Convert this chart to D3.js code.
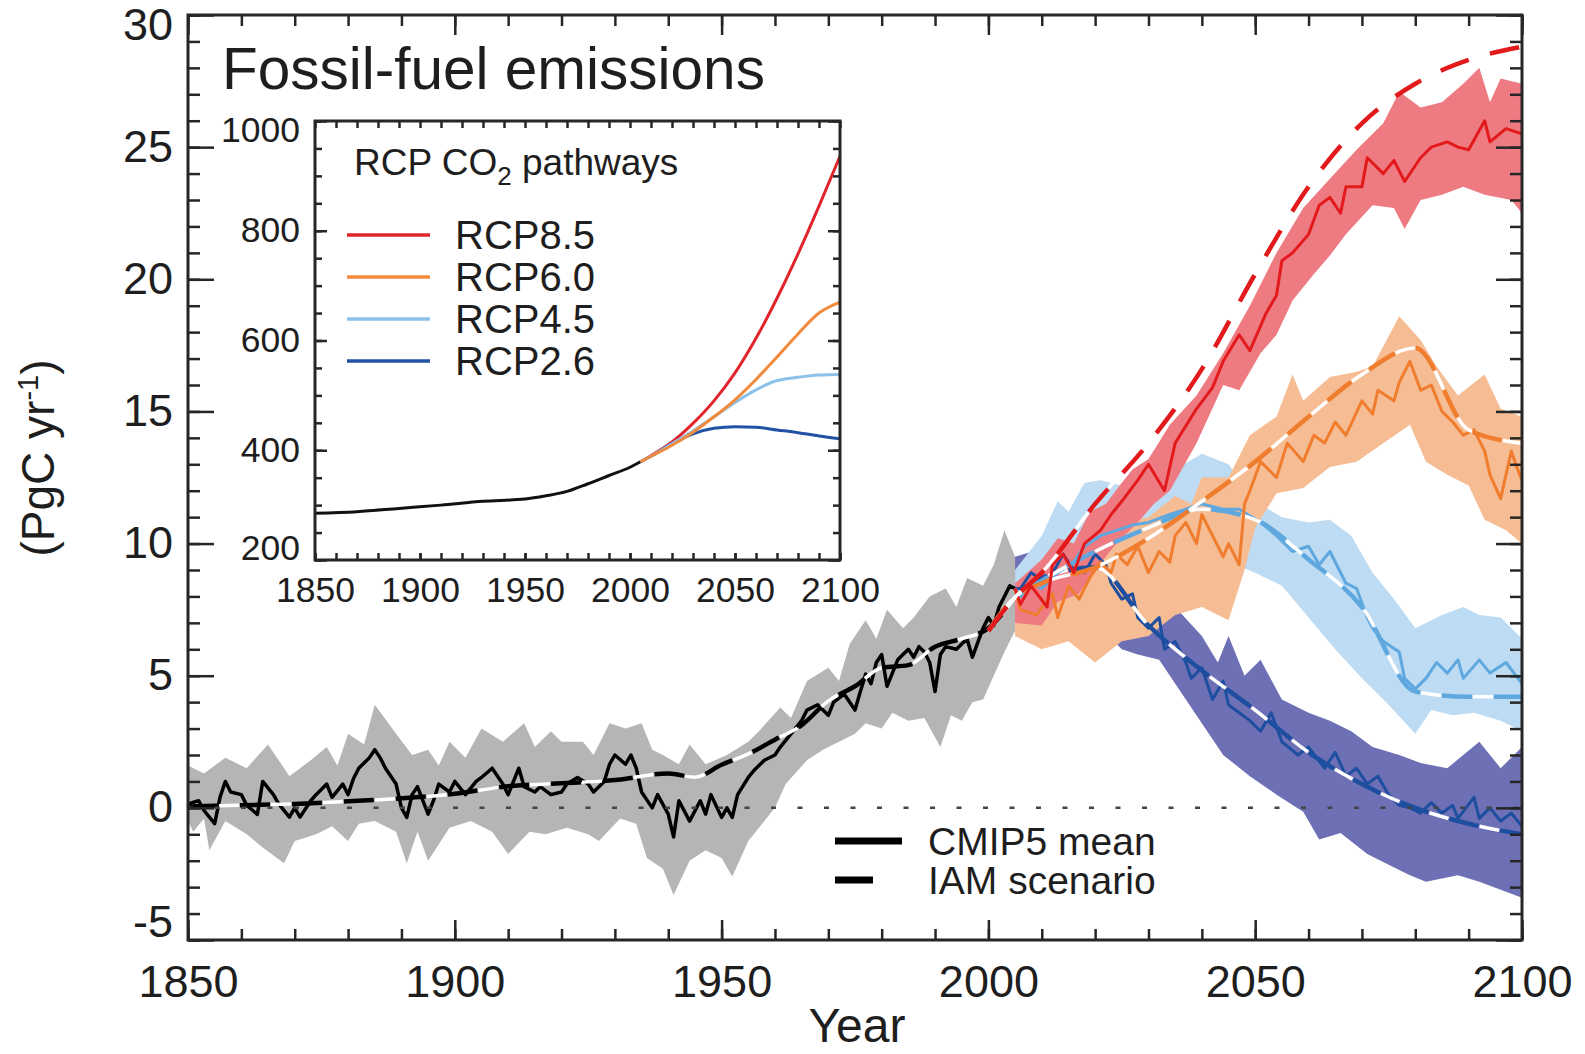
<!DOCTYPE html>
<html>
<head>
<meta charset="utf-8">
<script src="https://cdn.jsdelivr.net/npm/d3@7"></script>
<style>
body { margin: 0; background: #fff; }
svg text { font-family: "Liberation Sans", Arial, Helvetica, sans-serif; fill: #1e1e1e; }
</style>
</head>
<body>
<svg id="chart" width="1585" height="1054"></svg>
<script>
// ---- main panel data (PgC / yr) ----
var histMean = [[1850,0.15],[1852,0.27],[1853,-0.1],[1855,-0.6],[1856,0.4],[1857,1.0],[1858,0.6],[1860,0.5],[1861,0.1],[1863,-0.25],
  [1864,1.0],[1866,0.5],[1867,0.15],[1869,-0.35],[1870,0.0],[1871,-0.35],[1873,0.27],[1874,0.5],[1876,0.9],[1877,0.4],[1879,0.9],
  [1880,0.5],[1881,1.1],[1882,1.5],[1884,1.9],[1885,2.2],[1886,1.9],[1887,1.5],[1889,0.9],[1890,0.0],[1891,-0.36],[1892,0.5],
  [1893,0.8],[1895,-0.24],[1896,0.27],[1897,0.9],[1899,0.6],[1900,1.0],[1902,0.5],[1904,1.0],[1905,1.15],[1907,1.5],[1909,0.9],
  [1910,0.5],[1912,1.5],[1913,0.8],[1915,0.6],[1916,0.8],[1918,0.5],[1920,0.6],[1921,0.9],[1923,1.15],[1925,0.9],[1926,0.6],
  [1928,1.0],[1929,1.65],[1930,2.0],[1932,1.65],[1933,2.0],[1934,1.5],[1935,0.6],[1937,0.0],[1938,0.5],[1940,-0.24],[1941,-1.1],
  [1942,0.27],[1944,-0.5],[1946,0.27],[1947,-0.24],[1948,0.5],[1950,-0.36],[1951,0.0],[1952,-0.36],[1953,0.5],[1955,1.15],
  [1956,1.4],[1958,1.8],[1960,2.0],[1961,2.3],[1963,2.8],[1965,3.3],[1966,3.7],[1968,3.9],[1970,3.5],[1971,4.0],[1973,4.3],
  [1975,3.7],[1976,4.4],[1977,5.06],[1978,4.7],[1979,5.5],[1980,5.8],[1981,4.6],[1983,5.6],[1985,6.0],[1986,5.7],[1987,6.1],
  [1988,5.9],[1989,5.5],[1990,4.4],[1991,5.8],[1992,6.1],[1994,6.0],[1996,6.4],[1997,5.7],[1999,6.8],[2000,7.2],[2001,6.9],
  [2002,7.6],[2003,8.0],[2004,8.4],[2005,8.3]]
var histHi = [[1850,1.6],[1853,1.3],[1857,1.9],[1861,1.5],[1865,2.4],[1869,1.2],[1873,1.8],[1876,2.3],[1878,1.6],[1880,2.8],
  [1883,2.4],[1885,3.9],[1889,2.8],[1892,2.0],[1895,2.2],[1897,1.6],[1899,2.5],[1902,1.9],[1905,3.0],[1909,2.5],[1913,3.2],
  [1915,2.3],[1918,2.9],[1920,2.5],[1924,2.5],[1926,2.0],[1929,3.2],[1932,3.0],[1935,3.2],[1937,2.2],[1939,2.0],[1942,1.65],
  [1944,2.4],[1947,1.65],[1951,2.0],[1955,2.5],[1957,2.9],[1961,3.8],[1963,3.4],[1966,4.8],[1970,5.3],[1972,4.8],[1974,6.2],
  [1977,7.1],[1979,6.4],[1981,7.5],[1984,6.8],[1986,7.2],[1989,8.0],[1992,8.3],[1994,7.6],[1996,8.7],[1999,8.4],[2001,9.2],
  [2003,10.5],[2005,9.5]]
var histLo = [[1850,-0.5],[1851,-0.9],[1853,-0.4],[1854,-1.6],[1857,-0.5],[1861,-1.0],[1864,-1.5],[1868,-2.1],[1870,-1.25],
  [1874,-1.0],[1877,-0.7],[1880,-1.25],[1882,-0.6],[1885,-0.5],[1889,-0.9],[1891,-2.1],[1893,-0.9],[1895,-2.0],[1899,-0.75],
  [1903,-0.5],[1907,-0.9],[1910,-1.75],[1914,-0.9],[1917,-1.0],[1921,-0.75],[1925,-1.0],[1927,-1.25],[1931,-0.4],[1934,-0.6],
  [1936,-1.9],[1939,-2.3],[1941,-3.3],[1944,-2.0],[1947,-1.6],[1950,-1.9],[1952,-2.6],[1955,-1.25],[1957,-0.75],[1960,0.0],
  [1962,0.9],[1966,1.8],[1969,2.2],[1972,2.5],[1975,2.8],[1977,3.2],[1980,3.0],[1982,3.6],[1985,3.3],[1988,3.4],[1991,2.3],
  [1993,3.5],[1995,3.3],[1997,4.0],[1999,4.1],[2001,5.0],[2003,5.9],[2005,6.7]]
var histIAM = [[1850,0.05],[1860,0.1],[1870,0.15],[1880,0.25],[1890,0.36],[1900,0.53],[1910,0.82],[1920,0.93],[1930,1.05],
  [1940,1.3],[1945,1.16],[1950,1.63],[1955,2.04],[1960,2.58],[1965,3.13],[1970,4.05],[1975,4.6],[1980,5.3],[1985,5.4],
  [1990,6.1],[1995,6.4],[2000,6.8],[2005,7.97]]

var rcp85Mean = [[2005,8.3],[2006,7.7],[2008,8.4],[2011,7.6],[2012,9.2],[2014,9.6],[2016,8.9],[2018,10.0],[2021,10.5],[2023,11.1],
  [2025,11.6],[2028,12.4],[2030,13.0],[2033,12.0],[2035,13.8],[2039,15.1],[2042,15.9],[2044,16.9],[2047,17.9],[2049,17.3],
  [2052,18.7],[2054,19.4],[2055,20.7],[2057,21.0],[2060,21.7],[2062,22.8],[2064,23.1],[2066,22.5],[2067,23.5],[2070,23.5],
  [2071,24.6],[2074,24.0],[2076,24.5],[2078,23.7],[2081,24.6],[2083,25.0],[2086,25.2],[2088,25.0],[2090,24.9],[2093,26.0],
  [2094,25.2],[2097,25.7],[2100,25.5]]
var rcp85Hi = [[2005,8.5],[2010,9.4],[2013,10.2],[2016,10.0],[2019,11.2],[2022,11.5],[2025,12.3],[2027,12.8],[2030,13.2],
  [2034,14.5],[2039,15.6],[2044,17.2],[2049,19.0],[2054,21.0],[2059,22.7],[2064,23.8],[2069,24.9],[2074,25.9],[2077,27.1],
  [2081,26.5],[2085,26.7],[2089,27.4],[2092,28.0],[2094,26.7],[2096,27.6],[2100,27.4]]
var rcp85Lo = [[2005,7.0],[2010,6.9],[2013,7.8],[2017,8.1],[2020,9.0],[2024,10.0],[2028,10.8],[2031,11.5],[2034,12.0],
  [2039,13.8],[2044,16.0],[2047,15.8],[2051,17.2],[2054,17.9],[2057,19.2],[2061,20.2],[2064,20.9],[2067,21.7],[2072,22.8],
  [2076,22.7],[2078,21.9],[2081,23.0],[2085,23.2],[2089,23.5],[2093,23.2],[2098,23.0],[2100,22.5]]
var rcp85IAM = [[2000,6.7],[2005,7.97],[2010,8.9],[2020,11.5],[2030,13.8],[2040,16.6],[2050,20.2],[2060,23.5],[2070,25.9],
  [2080,27.4],[2090,28.3],[2100,28.8]]

var rcp60Mean = [[2005,8.3],[2006,7.5],[2009,7.3],[2012,8.1],[2013,7.2],[2015,8.4],[2017,7.9],[2019,8.7],[2021,9.3],[2023,8.9],
  [2024,9.6],[2026,9.2],[2028,9.9],[2030,8.9],[2032,9.7],[2034,9.3],[2035,10.3],[2037,10.8],[2039,10.0],[2040,11.1],[2042,10.3],
  [2044,9.5],[2045,10.0],[2047,9.2],[2048,11.5],[2049,12.0],[2051,13.1],[2054,12.5],[2056,13.8],[2059,13.1],[2061,14.1],
  [2063,13.8],[2065,14.6],[2067,14.1],[2070,15.4],[2072,14.9],[2073,15.8],[2076,15.4],[2077,16.1],[2079,16.9],[2081,15.8],
  [2083,16.0],[2085,15.0],[2087,14.6],[2089,14.1],[2091,14.3],[2093,13.5],[2094,12.6],[2096,11.7],[2098,13.5],[2099,12.9],
  [2100,12.4]]
var rcp60Hi = [[2005,8.5],[2010,8.8],[2015,9.5],[2020,10.0],[2025,10.8],[2030,11.0],[2035,11.8],[2038,11.5],[2040,12.5],
  [2045,12.5],[2049,14.1],[2054,14.8],[2057,16.4],[2059,15.4],[2064,16.3],[2069,16.5],[2072,16.7],[2077,18.6],[2081,17.7],
  [2084,16.7],[2088,15.6],[2093,16.4],[2096,15.1],[2100,14.8]]
var rcp60Lo = [[2005,6.5],[2010,6.0],[2015,6.3],[2020,5.5],[2025,6.3],[2030,6.5],[2035,7.3],[2040,7.6],[2045,7.1],[2048,9.0],
  [2050,10.6],[2054,11.9],[2059,12.1],[2064,12.9],[2069,13.1],[2074,13.8],[2079,14.5],[2082,13.1],[2086,12.6],[2090,12.2],
  [2093,10.9],[2097,10.5],[2100,10.0]]
var rcp60IAM = [[2000,6.7],[2005,7.97],[2010,8.5],[2020,9.1],[2030,10.2],[2040,11.6],[2050,13.1],[2060,14.8],[2070,16.4],
  [2080,17.4],[2090,14.3],[2100,13.8]]

var rcp45Mean = [[2005,8.3],[2006,8.0],[2008,8.5],[2010,8.3],[2013,8.9],[2016,9.3],[2018,9.9],[2021,10.3],[2024,10.5],[2027,10.7],
  [2030,10.8],[2034,11.1],[2037,11.3],[2040,11.5],[2044,11.3],[2047,11.3],[2051,10.8],[2054,10.3],[2057,9.7],[2060,9.9],
  [2062,9.2],[2064,9.7],[2067,8.5],[2069,8.3],[2071,7.2],[2072,6.8],[2074,6.3],[2077,5.9],[2078,4.9],[2080,4.5],[2082,4.9],
  [2084,5.5],[2086,5.1],[2088,5.6],[2089,4.9],[2092,5.6],[2094,5.1],[2097,5.5],[2100,4.7]]
var rcp45Hi = [[2005,9.0],[2010,10.3],[2013,11.6],[2015,11.2],[2018,12.3],[2021,12.4],[2025,12.2],[2030,12.5],[2035,12.8],
  [2040,13.4],[2045,13.0],[2050,11.6],[2055,11.0],[2060,10.8],[2064,10.9],[2068,10.3],[2072,8.9],[2076,7.9],[2080,6.8],
  [2085,7.3],[2089,7.6],[2092,7.3],[2096,7.2],[2100,6.4]]
var rcp45Lo = [[2005,7.0],[2010,7.0],[2015,7.8],[2020,8.3],[2025,8.8],[2030,9.0],[2035,9.3],[2040,9.5],[2045,9.3],[2050,8.9],
  [2055,8.4],[2060,7.2],[2065,6.0],[2070,4.9],[2075,3.9],[2080,2.8],[2083,3.7],[2087,3.5],[2091,3.6],[2096,3.3],[2100,2.9]]
var rcp45IAM = [[2000,6.7],[2005,7.97],[2010,8.6],[2020,9.7],[2030,10.6],[2040,11.3],[2050,10.9],[2060,9.4],[2070,7.6],
  [2080,4.4],[2090,4.2],[2100,4.2]]

var rcp26Mean = [[2005,8.3],[2006,8.3],[2008,8.9],[2011,8.5],[2014,9.6],[2016,9.0],[2018,8.9],[2020,9.6],[2022,9.2],[2023,8.5],
  [2025,7.9],[2027,8.1],[2028,7.2],[2030,6.8],[2032,7.2],[2033,6.0],[2035,6.3],[2037,5.5],[2038,4.9],[2040,5.3],[2042,4.1],
  [2044,4.8],[2045,3.9],[2047,3.6],[2049,3.3],[2051,2.9],[2053,3.6],[2055,2.5],[2058,2.0],[2060,2.3],[2063,1.5],[2065,2.1],
  [2067,1.2],[2069,1.5],[2071,0.9],[2073,1.2],[2075,0.5],[2077,0.1],[2079,0.0],[2081,-0.2],[2083,0.2],[2085,-0.2],[2087,0.1],
  [2088,-0.4],[2091,0.4],[2092,-0.4],[2094,0.0],[2096,-0.5],[2098,-0.2],[2100,-0.7]]
var rcp26Hi = [[2005,9.5],[2010,9.8],[2015,10.3],[2020,10.4],[2024,9.8],[2027,9.2],[2030,8.3],[2035,7.6],[2040,6.5],[2043,5.5],
  [2045,6.5],[2048,5.0],[2051,5.6],[2055,4.1],[2060,3.6],[2064,3.3],[2068,2.9],[2072,2.3],[2077,2.0],[2081,1.7],[2086,1.5],
  [2089,2.0],[2092,2.5],[2096,1.5],[2100,2.3]]
var rcp26Lo = [[2005,7.0],[2010,7.3],[2015,7.5],[2020,7.0],[2025,6.0],[2028,5.8],[2032,5.6],[2037,4.1],[2044,2.0],[2049,1.2],
  [2054,0.5],[2059,-0.15],[2062,-1.2],[2066,-0.95],[2071,-1.75],[2075,-2.15],[2079,-2.55],[2082,-2.8],[2088,-2.55],
  [2092,-2.8],[2096,-3.1],[2100,-3.4]]
var rcp26IAM = [[2000,6.7],[2005,7.97],[2010,8.7],[2020,9.1],[2030,6.9],[2040,5.2],[2050,3.7],[2060,2.1],[2070,0.9],
  [2080,0.0],[2090,-0.6],[2100,-1.0]]

// ---- inset data (CO2 ppm) ----
var co2Hist = [[1850,285],[1870,288],[1890,294],[1910,300],[1930,307],[1950,311],[1960,317],[1970,325],[1980,339],
  [1990,354],[2000,369],[2005,379]]
var co2Rcp85 = [[2005,379],[2010,390],[2020,415],[2030,449],[2040,490],[2050,541],[2060,604],[2070,677],[2080,758],[2090,845],[2100,936]]
var co2Rcp60 = [[2005,379],[2010,389],[2020,409],[2030,433],[2040,461],[2050,492],[2060,529],[2070,570],[2080,612],[2090,650],[2100,670]]
var co2Rcp45 = [[2005,379],[2010,389],[2020,412],[2030,435],[2040,461],[2050,487],[2060,510],[2070,527],[2080,533],[2090,537],[2100,538]]
var co2Rcp26 = [[2005,379],[2010,389],[2020,412],[2030,430],[2040,440],[2050,443],[2060,442],[2070,437],[2080,432],[2090,426],[2100,421]]

var yearTicks = [1850, 1900, 1950, 2000, 2050, 2100]
var valueTicks = [-5, 0, 5, 10, 15, 20, 25, 30]
var ppmTicks = [200, 400, 600, 800, 1000]
var rcpNames = ['RCP8.5', 'RCP6.0', 'RCP4.5', 'RCP2.6']

var svg = d3.select('#chart')
var x = d3.scaleLinear().domain([1850, 2100]).range([188, 1522])
var y = d3.scaleLinear().domain([-5, 30]).range([940, 15])
var plain = function(d){ return String(d) }   // keep ASCII hyphen for negatives

var line = d3.line().x(function(d){ return x(d[0]) }).y(function(d){ return y(d[1]) })
var smooth = d3.line().curve(d3.curveMonotoneX).x(function(d){ return x(d[0]) }).y(function(d){ return y(d[1]) })
var polyLine = d3.line()

function bandPath(hi, lo)
{
    var pts = hi.map(function(d){ return [x(d[0]), y(d[1])] })
    pts = pts.concat(lo.slice().reverse().map(function(d){ return [x(d[0]), y(d[1])] }))
    return polyLine(pts) + 'Z'
}

var series = [
    {id: 'hist', mean: histMean, hi: histHi, lo: histLo, iam: histIAM, band: '#b5b5b5', col: '#000000'},
    {id: 'r26', mean: rcp26Mean, hi: rcp26Hi, lo: rcp26Lo, iam: rcp26IAM, band: '#6e70b5', col: '#1d4ea0'},
    {id: 'r45', mean: rcp45Mean, hi: rcp45Hi, lo: rcp45Lo, iam: rcp45IAM, band: '#bddbf2', col: '#5ea8df'},
    {id: 'r60', mean: rcp60Mean, hi: rcp60Hi, lo: rcp60Lo, iam: rcp60IAM, band: '#f6bd94', col: '#ef7d2d'},
    {id: 'r85', mean: rcp85Mean, hi: rcp85Hi, lo: rcp85Lo, iam: rcp85IAM, band: '#ee7b82', col: '#e31a1c'}
]

var plot = svg.append('g')

series.forEach(function(s)
{
    plot.append('path').attr('d', bandPath(s.hi, s.lo)).attr('fill', s.band)
})

series.forEach(function(s)
{
    plot.append('path')
        .attr('d', line(s.mean))
        .attr('fill', 'none')
        .attr('stroke', s.col)
        .attr('stroke-width', s.id == 'hist' ? 3.5 : 3)
        .attr('stroke-linejoin', 'round')
    // scenario line: coloured dashes, white dashes filling the gaps
    plot.append('path')
        .attr('d', smooth(s.iam))
        .attr('fill', 'none')
        .attr('stroke', s.col)
        .attr('stroke-width', 4.5)
        .attr('stroke-dasharray', '30,22')
    plot.append('path')
        .attr('d', smooth(s.iam))
        .attr('fill', 'none')
        .attr('stroke', '#ffffff')
        .attr('stroke-width', 3.5)
        .attr('stroke-dasharray', '20,32')
        .attr('stroke-dashoffset', -31)
})

// zero line
plot.append('line')
    .attr('x1', x(1850)).attr('x2', x(2100))
    .attr('y1', y(0)).attr('y2', y(0))
    .attr('stroke', '#444')
    .attr('stroke-width', 2.5)
    .attr('stroke-dasharray', '5,21.5')

// ---- main axes ----
function styleAxis(g, fs)
{
    g.select('.domain').remove()
    g.attr('font-size', fs).attr('font-family', '"Liberation Sans", Arial, sans-serif').attr('color', '#262626')
    g.selectAll('.tick line').attr('stroke-width', 2.5)
}

var minorYears = d3.range(1850, 2101, 10)
var minorVals = d3.range(-5, 31, 1)

svg.append('g').attr('transform', 'translate(0,940)')
    .call(d3.axisBottom(x).tickValues(minorYears).tickSize(-11).tickFormat(''))
    .call(styleAxis, 45)
svg.append('g').attr('transform', 'translate(0,940)')
    .call(d3.axisBottom(x).tickValues(yearTicks).tickSize(-20).tickPadding(25).tickFormat(plain))
    .call(styleAxis, 45)
svg.append('g').attr('transform', 'translate(0,15)')
    .call(d3.axisTop(x).tickValues(minorYears).tickSize(-11).tickFormat(''))
    .call(styleAxis, 45)
svg.append('g').attr('transform', 'translate(0,15)')
    .call(d3.axisTop(x).tickValues(yearTicks).tickSize(-20).tickFormat(''))
    .call(styleAxis, 45)

svg.append('g').attr('transform', 'translate(188,0)')
    .call(d3.axisLeft(y).tickValues(minorVals).tickSize(-12).tickFormat(''))
    .call(styleAxis, 45)
var yAxis = svg.append('g').attr('transform', 'translate(188,0)')
    .call(d3.axisLeft(y).tickValues(valueTicks).tickSize(-26).tickPadding(15).tickFormat(plain))
    .call(styleAxis, 45)
yAxis.selectAll('.tick text').attr('dy', function(d){ return d == 30 ? 24 : (d == -5 ? -4 : 14) })
svg.append('g').attr('transform', 'translate(1522,0)')
    .call(d3.axisRight(y).tickValues(minorVals).tickSize(-12).tickFormat(''))
    .call(styleAxis, 45)
svg.append('g').attr('transform', 'translate(1522,0)')
    .call(d3.axisRight(y).tickValues(valueTicks).tickSize(-26).tickFormat(''))
    .call(styleAxis, 45)

svg.append('rect')
    .attr('x', 188).attr('y', 15)
    .attr('width', 1522 - 188).attr('height', 940 - 15)
    .attr('fill', 'none').attr('stroke', '#262626').attr('stroke-width', 3)

svg.append('text')
    .attr('x', 222).attr('y', 89)
    .attr('font-size', 58.5)
    .text('Fossil-fuel emissions')

svg.append('text')
    .attr('x', 857).attr('y', 1042)
    .attr('text-anchor', 'middle')
    .attr('font-size', 48)
    .text('Year')

var ylab = svg.append('text')
    .attr('transform', 'translate(54,458) rotate(-90)')
    .attr('text-anchor', 'middle')
    .attr('font-size', 46)
ylab.append('tspan').text('(PgC yr')
ylab.append('tspan').attr('font-size', 29).attr('dy', -16).text('-1')
ylab.append('tspan').attr('dy', 16).text(')')

// legend (line styles)
var leg = svg.append('g')
leg.append('line').attr('x1', 835).attr('x2', 902).attr('y1', 841).attr('y2', 841)
    .attr('stroke', '#000').attr('stroke-width', 7)
leg.append('line').attr('x1', 835).attr('x2', 873).attr('y1', 880).attr('y2', 880)
    .attr('stroke', '#000').attr('stroke-width', 7)
leg.append('text').attr('x', 928).attr('y', 855).attr('font-size', 39).text('CMIP5 mean')
leg.append('text').attr('x', 928).attr('y', 894).attr('font-size', 39).text('IAM scenario')

// ---- inset: RCP CO2 pathways ----
var xi = d3.scaleLinear().domain([1850, 2100]).range([315, 840])
var yi = d3.scaleLinear().domain([200, 1000]).range([560, 121])
var lineI = d3.line().curve(d3.curveMonotoneX).x(function(d){ return xi(d[0]) }).y(function(d){ return yi(d[1]) })

var inset = svg.append('g')
inset.append('rect').attr('x', 315).attr('y', 121).attr('width', 525).attr('height', 439).attr('fill', '#fff')

inset.append('path').attr('d', lineI(co2Hist)).attr('fill', 'none').attr('stroke', '#111').attr('stroke-width', 3)
var co2Series = [
    {data: co2Rcp85, col: '#e0262c'},
    {data: co2Rcp26, col: '#2152a4'},
    {data: co2Rcp45, col: '#8cc2ea'},
    {data: co2Rcp60, col: '#f28a3c'}
]
co2Series.forEach(function(s)
{
    inset.append('path').attr('d', lineI(s.data)).attr('fill', 'none').attr('stroke', s.col).attr('stroke-width', 3)
})

var insetYears = d3.range(1850, 2101, 10)
var insetPpm = d3.range(200, 1001, 50)
inset.append('g').attr('transform', 'translate(0,560)')
    .call(d3.axisBottom(xi).tickValues(insetYears).tickSize(-7).tickFormat(''))
    .call(styleAxis, 35.5)
inset.append('g').attr('transform', 'translate(0,560)')
    .call(d3.axisBottom(xi).tickValues(yearTicks).tickSize(-7).tickPadding(17).tickFormat(plain))
    .call(styleAxis, 35.5)
inset.append('g').attr('transform', 'translate(0,121)')
    .call(d3.axisTop(xi).tickValues(insetYears).tickSize(-7).tickFormat(''))
    .call(styleAxis, 35.5)
inset.append('g').attr('transform', 'translate(315,0)')
    .call(d3.axisLeft(yi).tickValues(insetPpm).tickSize(-7).tickFormat(''))
    .call(styleAxis, 35.5)
var yiAxis = inset.append('g').attr('transform', 'translate(315,0)')
    .call(d3.axisLeft(yi).tickValues(ppmTicks).tickSize(-12).tickPadding(15).tickFormat(plain))
    .call(styleAxis, 35.5)
yiAxis.selectAll('.tick text').attr('dy', function(d){ return d == 1000 ? 20 : (d == 200 ? -1 : 11) })
inset.append('g').attr('transform', 'translate(840,0)')
    .call(d3.axisRight(yi).tickValues(insetPpm).tickSize(-7).tickFormat(''))
    .call(styleAxis, 35.5)
inset.append('g').attr('transform', 'translate(840,0)')
    .call(d3.axisRight(yi).tickValues(ppmTicks).tickSize(-12).tickFormat(''))
    .call(styleAxis, 35.5)
inset.append('rect').attr('x', 315).attr('y', 121).attr('width', 525).attr('height', 439)
    .attr('fill', 'none').attr('stroke', '#262626').attr('stroke-width', 3)

var ititle = inset.append('text').attr('x', 354).attr('y', 175).attr('font-size', 37)
ititle.append('tspan').text('RCP CO')
ititle.append('tspan').attr('font-size', 26).attr('dy', 10).text('2')
ititle.append('tspan').attr('dy', -10).text(' pathways')

var legCols = ['#e0262c', '#f28a3c', '#8cc2ea', '#2152a4']
var ileg = inset.selectAll('.ileg').data(rcpNames).enter().append('g').attr('class', 'ileg')
    .attr('transform', function(d, i){ return 'translate(0,' + (235 + i * 42) + ')' })
ileg.append('line').attr('x1', 347).attr('x2', 430).attr('stroke-width', 3.5)
    .attr('stroke', function(d, i){ return legCols[i] })
ileg.append('text').attr('x', 455).attr('y', 14).attr('font-size', 40).text(function(d){ return d })
</script>
</body>
</html>
